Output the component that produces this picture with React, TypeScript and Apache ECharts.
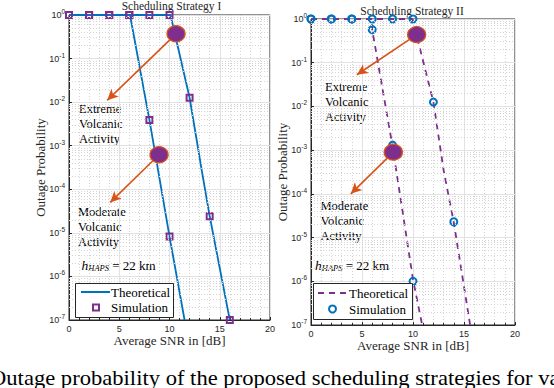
import React, { useEffect, useRef } from "react";
import * as echarts from "echarts";

// ---------- data (SNR in dB, outage probability) ----------
const snrTicks = [0, 5, 10, 15, 20];
const decadeTicks = [0, -1, -2, -3, -4, -5, -6, -7];

// Scheduling Strategy I
const theoryIModerate: number[][] = [[0, 1], [6.07, 1], [8, 3.9e-3], [10, 8.3e-6], [11.5, 1e-7]];
const theoryIExtreme: number[][] = [[0, 1], [10.1, 1], [12, 1.26e-2], [13.2, 2.8e-4], [14, 2.4e-5], [16, 1e-7]];
const simIModerate: number[][] = [[0, 1], [2, 1], [4, 1], [6, 1], [8, 3.9e-3], [10, 8.3e-6]];
const simIExtreme: number[][] = [[0, 1], [2, 1], [4, 1], [6, 1], [8, 1], [10, 1], [12, 1.26e-2], [14, 2.4e-5], [16, 1e-7]];

// Scheduling Strategy II
const theoryIIModerate: number[][] = [[0, 1], [5.95, 1], [6, 0.57], [8, 1.2e-3], [10, 1.1e-6], [10.9, 1e-7]];
const theoryIIExtreme: number[][] = [[0, 1], [9.95, 1], [12, 1.26e-2], [13, 3.5e-4], [14, 2.2e-5], [15.6, 1e-7]];
const simIIModerate: number[][] = [[0, 1], [2, 1], [4, 1], [6, 0.57], [8, 1.3e-3], [10, 1e-6]];
const simIIExtreme: number[][] = [[0, 1], [2, 1], [4, 1], [6, 1], [8, 1], [10, 1], [12, 1.26e-2], [14, 2.3e-5]];

// annotation markers (circle centre, arrow tip) in data units
const annotI = [
  { circle: [10.65, 0.37], tip: [3.8, 1.1e-2] },
  { circle: [8.96, 6.2e-4], tip: [4.1, 5e-5] },
];
const annotII = [
  { circle: [10.36, 0.44], tip: [4.5, 5.3e-2] },
  { circle: [8.07, 9e-4], tip: [3.9, 1e-4] },
];

const titles = ["Scheduling Strategy I", "Scheduling Strategy II"];
const caption = "Outage probability of the proposed scheduling strategies for various";

// ---------- styling ----------
const BLUE = "#0072BD";
const PURPLE = "#7E2F8E";
const ORANGE = "#D95319";
const AXIS = "#262626";
const SERIF = "Liberation Serif";
const SANS = "Liberation Sans";

const toLog = (d: number[][]) => d.map(([x, y]) => [x, Math.log10(y)]);

const minorY: number[] = [];
for (let n = -7; n < 0; n++) for (let k = 2; k <= 9; k++) minorY.push(n + Math.log10(k));

function xAxis(gridIndex: number) {
  return {
    type: "value",
    gridIndex,
    min: snrTicks[0],
    max: snrTicks[snrTicks.length - 1],
    interval: 5,
    axisLine: { show: true, onZero: false, lineStyle: { color: AXIS, width: 1 } },
    axisTick: { show: true, inside: true, length: 3, lineStyle: { color: AXIS } },
    minorTick: { show: true, splitNumber: 5, length: 2, lineStyle: { color: AXIS } },
    splitLine: { show: true, lineStyle: { color: "#e2e2e2", width: 1 } },
    minorSplitLine: { show: true, lineStyle: { color: "#d4d4d4", width: 1, type: [1, 2] } },
    axisLabel: { color: AXIS, fontSize: 9, fontFamily: SANS, margin: 4 },
    name: "Average SNR in [dB]",
    nameLocation: "middle",
    nameGap: 14,
    nameMoveOverlap: false,
    nameTextStyle: { fontFamily: SERIF, fontSize: 13, color: AXIS },
  };
}

function yAxis(gridIndex: number) {
  return {
    type: "value",
    gridIndex,
    min: decadeTicks[decadeTicks.length - 1],
    max: decadeTicks[0],
    interval: 1,
    axisLine: { show: true, onZero: false, lineStyle: { color: AXIS, width: 1 } },
    axisTick: { show: true, inside: true, length: 3, lineStyle: { color: AXIS } },
    splitLine: { show: true, lineStyle: { color: "#e2e2e2", width: 1 } },
    axisLabel: {
      color: AXIS,
      margin: 4,
      formatter: (v: number) => `{b|10}{s|${v}}`,
      rich: {
        b: { fontSize: 9, fontFamily: SANS, color: AXIS },
        s: { fontSize: 6.5, fontFamily: SANS, color: AXIS, padding: [0, 0, 7, 0] },
      },
    },
    name: "Outage Probability",
    nameLocation: "middle",
    nameGap: 22,
    nameMoveOverlap: false,
    nameRotate: 90,
    nameTextStyle: { fontFamily: SERIF, fontSize: 13, color: AXIS },
  };
}

function panelSeries(
  idx: number,
  theory: number[][][],
  sim: number[][][],
  lineColor: string,
  lineType: any,
  simSymbol: string,
  simColor: string,
  simSize: number,
  annot: { circle: number[]; tip: number[] }[]
) {
  const s: any[] = [];
  s.push({
    type: "line",
    xAxisIndex: idx,
    yAxisIndex: idx,
    data: [],
    z: 1,
    silent: true,
    markLine: {
      silent: true,
      symbol: ["none", "none"],
      label: { show: false },
      lineStyle: { color: "#d4d4d4", width: 1, type: [1, 2] },
      data: minorY.map((v) => ({ yAxis: v })),
    },
  });
  theory.forEach((d) =>
    s.push({
      type: "line",
      name: "Theoretical",
      xAxisIndex: idx,
      yAxisIndex: idx,
      data: toLog(d),
      showSymbol: false,
      symbol: "none",
      z: 2,
      lineStyle: { color: lineColor, width: 1.8, type: lineType, opacity: 1 },
    })
  );
  sim.forEach((d) =>
    s.push({
      type: "scatter",
      name: "Simulation",
      xAxisIndex: idx,
      yAxisIndex: idx,
      data: toLog(d),
      symbol: simSymbol,
      symbolSize: simSize,
      clip: false,
      z: 3,
      itemStyle: { color: "rgba(0,0,0,0)", borderColor: simColor, borderWidth: 2, opacity: 1 },
    })
  );
  s.push({
    type: "line",
    xAxisIndex: idx,
    yAxisIndex: idx,
    data: [],
    z: 4,
    silent: true,
    markLine: {
      silent: true,
      symbol: ["none", "arrow"],
      symbolSize: [8, 11],
      label: { show: false },
      lineStyle: { color: ORANGE, width: 1.6, type: "solid", opacity: 1 },
      data: annot.map((a) => [
        { coord: [a.circle[0], Math.log10(a.circle[1])] },
        { coord: [a.tip[0], Math.log10(a.tip[1])] },
      ]),
    },
  });
  s.push({
    type: "scatter",
    xAxisIndex: idx,
    yAxisIndex: idx,
    data: annot.map((a) => [a.circle[0], Math.log10(a.circle[1])]),
    symbol: "circle",
    symbolSize: [18, 16],
    z: 5,
    silent: true,
    itemStyle: { color: PURPLE, borderColor: ORANGE, borderWidth: 1.3, opacity: 1 },
  });
  return s;
}

function txt(x: number, y: number, text: string, extra: any = {}) {
  return {
    type: "text",
    x,
    y,
    silent: true,
    style: {
      text,
      fill: "#000",
      fontFamily: SERIF,
      fontSize: 12.5,
      verticalAlign: "middle",
      ...extra,
    },
  };
}

function hText(x: number, y: number) {
  return {
    type: "text",
    x,
    y,
    silent: true,
    style: {
      text: "{h|h}{s|HAPS}{n| = 22 km}",
      verticalAlign: "middle",
      rich: {
        h: { fontFamily: SERIF, fontSize: 13.5, fontStyle: "italic", fill: "#000" },
        s: { fontFamily: SERIF, fontSize: 8.5, fontStyle: "italic", fill: "#000", padding: [6, 0, 0, 0] },
        n: { fontFamily: SERIF, fontSize: 13, fill: "#000" },
      },
    },
  };
}

export default function App() {
  const ref = useRef<HTMLDivElement>(null);
  useEffect(() => {
    if (!ref.current) return;
    const chart = echarts.init(ref.current, undefined, { renderer: "svg" });
    const option: any = {
      animation: false,
      backgroundColor: "#fff",
      grid: [
        { left: 69, top: 15, width: 201, height: 305, show: true, borderColor: AXIS, borderWidth: 1, backgroundColor: "transparent" },
        { left: 311, top: 19, width: 204, height: 306, show: true, borderColor: AXIS, borderWidth: 1, backgroundColor: "transparent" },
      ],
      xAxis: [xAxis(0), xAxis(1)],
      yAxis: [yAxis(0), yAxis(1)],
      series: [
        ...panelSeries(0, [theoryIModerate, theoryIExtreme], [simIModerate, simIExtreme], BLUE, "solid", "rect", PURPLE, 6, annotI),
        ...panelSeries(1, [theoryIIModerate, theoryIIExtreme], [simIIModerate, simIIExtreme], PURPLE, [6, 5], "circle", BLUE, 7, annotII),
      ],
      graphic: [
        txt(171.5, 6, titles[0], { align: "center", fontSize: 11.5, fill: AXIS }),
        txt(412, 11, titles[1], { align: "center", fontSize: 11.5, fill: AXIS }),
        txt(79, 101.5, "Extreme\nVolcanic\nActivity", { verticalAlign: "top", lineHeight: 15 }),
        txt(78, 204.5, "Moderate\nVolcanic\nActivity", { verticalAlign: "top", lineHeight: 15 }),
        txt(325, 79.5, "Extreme\nVolcanic\nActivity", { verticalAlign: "top", lineHeight: 15 }),
        txt(320.5, 198, "Moderate\nVolcanic\nActivity", { verticalAlign: "top", lineHeight: 15 }),
        hText(81.5, 265),
        hText(315, 265),
        // legend I
        { type: "rect", shape: { x: 75.5, y: 283.5, width: 98, height: 34 }, style: { fill: "#fff", stroke: AXIS, lineWidth: 1 }, z: 10 },
        { type: "line", shape: { x1: 81, y1: 292, x2: 110, y2: 292 }, style: { stroke: BLUE, lineWidth: 2 }, z: 11 },
        { ...txt(111, 292, "Theoretical", { fontSize: 13 }), z: 11 },
        { type: "rect", shape: { x: 93, y: 304.5, width: 6, height: 6 }, style: { fill: "none", stroke: PURPLE, lineWidth: 2 }, z: 11 },
        { ...txt(111, 307.5, "Simulation", { fontSize: 13 }), z: 11 },
        // legend II
        { type: "rect", shape: { x: 313.5, y: 283.5, width: 99, height: 36 }, style: { fill: "#fff", stroke: AXIS, lineWidth: 1 }, z: 10 },
        { type: "line", shape: { x1: 318, y1: 293, x2: 347, y2: 293 }, style: { stroke: PURPLE, lineWidth: 2, lineDash: [6, 5] }, z: 11 },
        { ...txt(349, 293, "Theoretical", { fontSize: 13 }), z: 11 },
        { type: "circle", shape: { cx: 332.5, cy: 309, r: 3.5 }, style: { fill: "none", stroke: BLUE, lineWidth: 2 }, z: 11 },
        { ...txt(349, 309, "Simulation", { fontSize: 13 }), z: 11 },
        // caption
        {
          type: "text",
          x: -10,
          y: 378,
          scaleX: 1.13,
          silent: true,
          style: { text: caption, fontFamily: SERIF, fontSize: 20, fill: "#000", verticalAlign: "middle" },
        },
      ],
    };
    chart.setOption(option);
    return () => chart.dispose();
  }, []);
  return (
    <div
      ref={ref}
      style={{ position: "fixed", left: 0, top: 0, width: 554, height: 388, background: "#fff" }}
    />
  );
}
